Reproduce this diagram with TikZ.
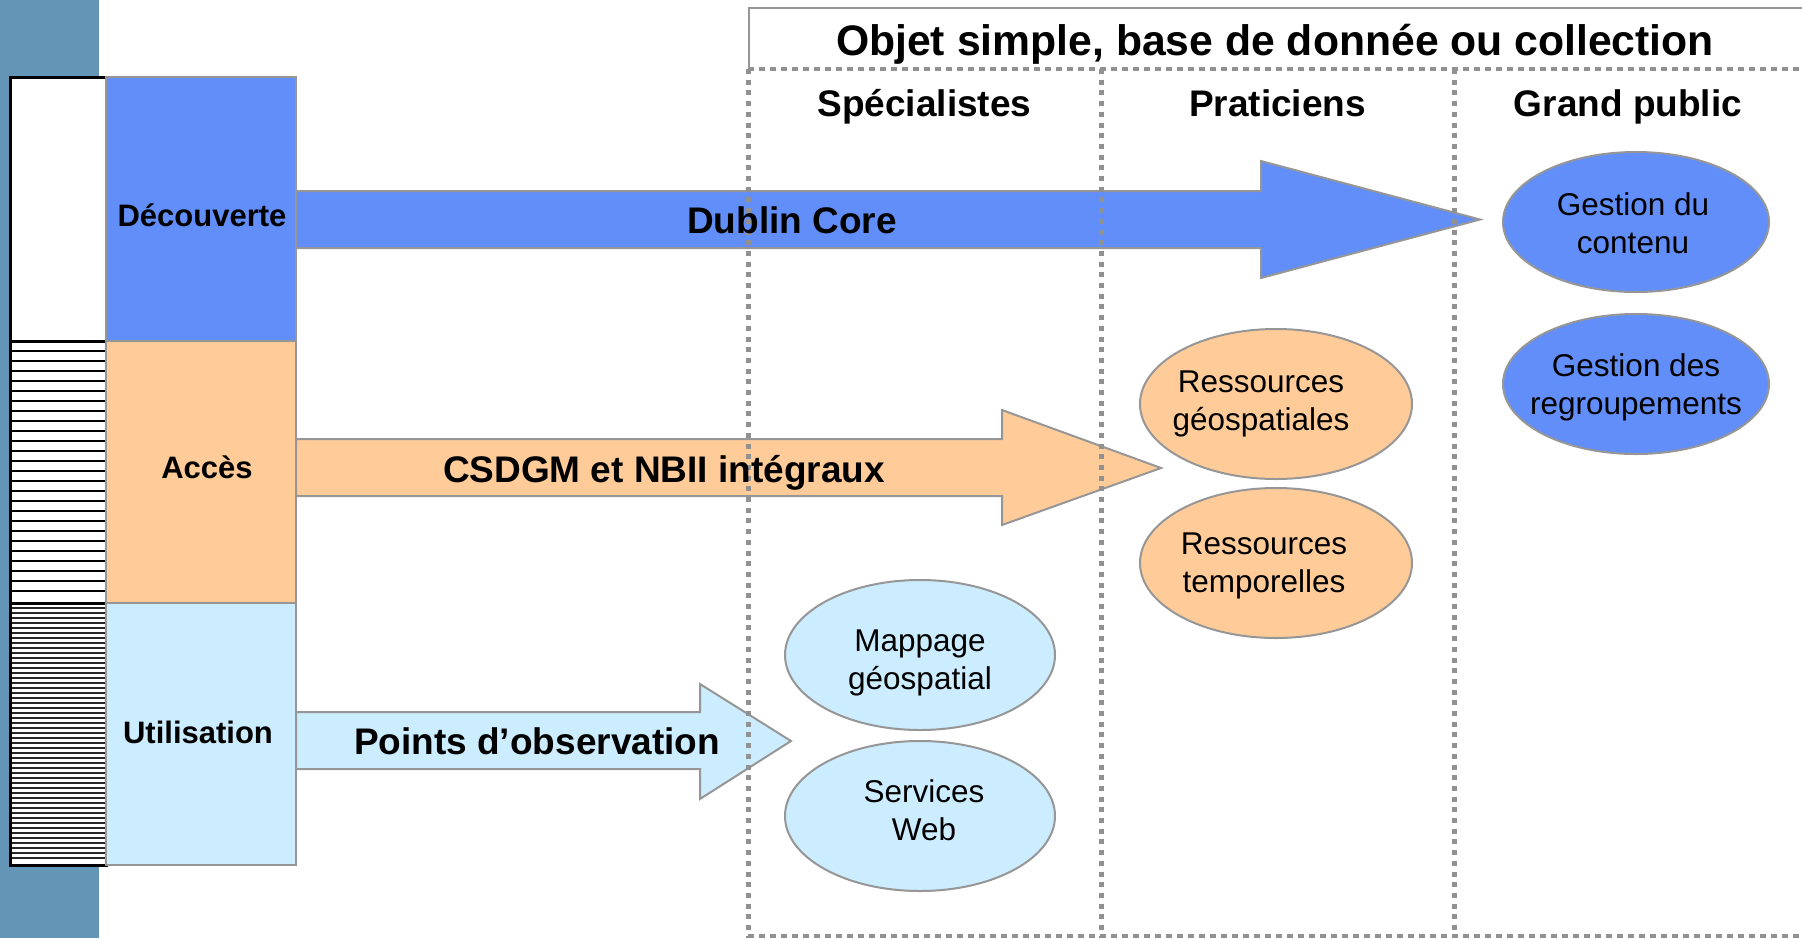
\documentclass[tikz,border=0pt]{standalone}
\usepackage{fontspec}
\setmainfont{Liberation Sans}
\usetikzlibrary{shapes.geometric}
\definecolor{band}{RGB}{99,149,182}
\definecolor{cblue}{RGB}{98,142,250}
\definecolor{corange}{RGB}{255,204,153}
\definecolor{clight}{RGB}{204,236,255}
\definecolor{bgray}{RGB}{150,150,150}
\definecolor{dgray}{RGB}{145,145,145}
\begin{document}
\begin{tikzpicture}[x=1pt,y=-1pt,
 catbox/.style={draw=bgray, line width=2pt, inner sep=0pt, minimum width=190pt},
 cattext/.style={font=\fontsize{31}{36}\selectfont\bfseries, inner sep=0pt},
 arrowbody/.style={draw=bgray, line width=2pt, line join=miter},
 arrowtext/.style={font=\fontsize{37}{44}\selectfont\bfseries, inner sep=0pt},
 ell/.style={ellipse, draw=bgray, line width=2pt, inner sep=0pt},
 elltext/.style={align=center, font=\fontsize{31.5}{38}\selectfont, inner sep=0pt},
 dotline/.style={draw=dgray, line width=5pt, dash pattern=on 5pt off 5.7pt},
 hdr/.style={font=\fontsize{37}{44}\selectfont\bfseries, inner sep=0pt, anchor=base},
]
\useasboundingbox (0,0) rectangle (1802,938);
% left band
\fill[band] (0,0) rectangle (99,938);
% striped column
\fill[white] (10,77) rectangle (106,865);
\foreach \y in {351,361,...,600} \draw[line width=2.2pt] (10,\y) -- (106,\y);
\foreach \y in {608,613,...,862} \draw[line width=1.8pt, black!85] (10,\y) -- (106,\y);
\draw[line width=3pt] (10,77) rectangle (106,865);
\draw[line width=3pt] (10,341) -- (106,341);
\draw[line width=3pt] (10,603) -- (106,603);
% category boxes
\node[catbox, fill=cblue, minimum height=264pt] (decbox) at (201,209) {};
\node[catbox, fill=corange, minimum height=262pt] (accbox) at (201,472) {};
\node[catbox, fill=clight, minimum height=262pt] (utibox) at (201,734) {};
\node[cattext] (dec) at (202,215) {Découverte};
\node[cattext] (acc) at (207,467) {Accès};
\node[cattext] (uti) at (198,732) {Utilisation};
% arrows
\draw[arrowbody, fill=cblue] (296,191) -- (1261,191) -- (1261,161) -- (1480,219.5) -- (1261,278) -- (1261,248) -- (296,248) -- cycle;
\draw[arrowbody, fill=corange] (296,439) -- (1002,439) -- (1002,410) -- (1161,468) -- (1002,525) -- (1002,496) -- (296,496) -- cycle;
\draw[arrowbody, fill=clight] (296,712) -- (700,712) -- (700,684) -- (791,741) -- (700,799) -- (700,769) -- (296,769) -- cycle;
% header and dotted grid
\draw[bgray, line width=2.5pt] (749,69) -- (749,8) -- (1802,8);
\draw[draw=dgray, line width=3.5pt, dash pattern=on 6pt off 5pt] (748,69) -- (1802,69);
\draw[dotline] (748,69) -- (748,938);
\draw[dotline] (1101,69) -- (1101,938);
\draw[dotline] (1454,69) -- (1454,938);
\draw[draw=dgray, line width=4pt, dash pattern=on 6pt off 5pt] (748,936) -- (1802,936);
% arrow labels
\node[arrowtext] (dc) at (792,220) {Dublin Core};
\node[arrowtext] (cs) at (664,472.5) {CSDGM et NBII intégraux};
\node[arrowtext] (po) at (537,741) {Points d’observation};
% headers
\node[font=\fontsize{42.7}{50}\selectfont\bfseries, inner sep=0pt, anchor=base] (title) at (1275,55.5) {Objet simple, base de donnée ou collection};
\node[hdr] (h1) at (924.5,116.5) {Spécialistes};
\node[hdr] (h2) at (1277.5,116.5) {Praticiens};
\node[hdr] (h3) at (1628,116.5) {Grand public};
% ellipses
\node[ell, fill=cblue, minimum width=266pt, minimum height=140pt] (gc) at (1636,222) {};
\node[ell, fill=cblue, minimum width=266pt, minimum height=140pt] (gr) at (1636,384) {};
\node[ell, fill=corange, minimum width=272pt, minimum height=150pt] (rg) at (1276,404) {};
\node[ell, fill=corange, minimum width=272pt, minimum height=150pt] (rt) at (1276,563) {};
\node[ell, fill=clight, minimum width=270pt, minimum height=150pt] (mg) at (920,655) {};
\node[ell, fill=clight, minimum width=270pt, minimum height=150pt] (sw) at (920,816) {};
\node[elltext] (gct) at (1633,223) {Gestion du\\contenu};
\node[elltext] (grt) at (1636,387) {Gestion des\\regroupements};
\node[elltext] (rgt) at (1261,404) {Ressources\\géospatiales};
\node[elltext] (rtt) at (1264,566) {Ressources\\temporelles};
\node[elltext] (mgt) at (920,663) {Mappage\\géospatial};
\node[elltext] (swt) at (924,810) {Services\\Web};
\end{tikzpicture}
\end{document}
